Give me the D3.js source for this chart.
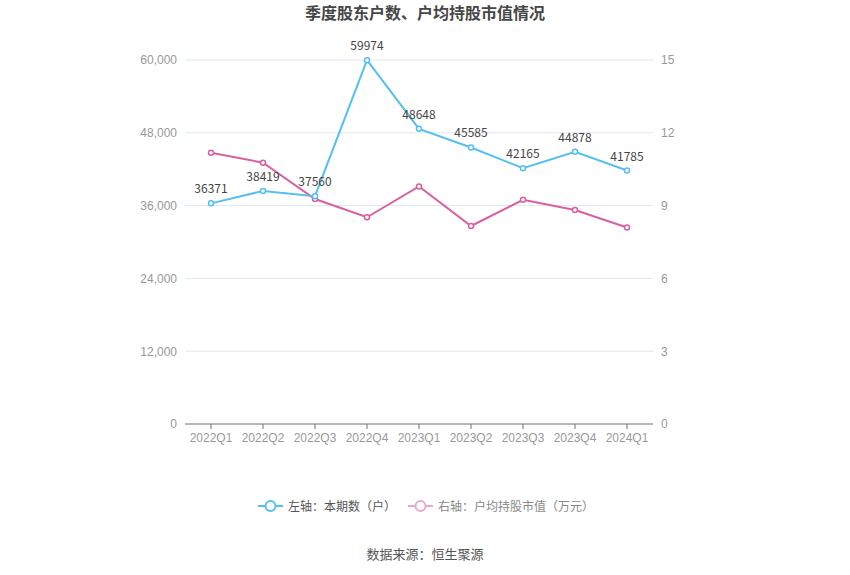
<!DOCTYPE html>
<html>
<head>
<meta charset="utf-8">
<script src="https://cdn.jsdelivr.net/npm/d3@7/dist/d3.min.js"></script>
<style>
  body { margin: 0; background: #fff; }
  svg { font-family: "Noto Sans CJK SC", "Noto Sans", sans-serif; }
</style>
</head>
<body>
<div id="chart"></div>
<script>
// data
const quarters = ["2022Q1", "2022Q2", "2022Q3", "2022Q4", "2023Q1", "2023Q2", "2023Q3", "2023Q4", "2024Q1"];
const holders = [36371, 38419, 37560, 59974, 48648, 45585, 42165, 44878, 41785];
const avgValue = [11.18, 10.77, 9.27, 8.52, 9.79, 8.16, 9.24, 8.82, 8.10];
const leftTicks = [0, 12000, 24000, 36000, 48000, 60000];
const rightTicks = [0, 3, 6, 9, 12, 15];

const width = 850, height = 575;
const margin = { top: 60, right: 197, bottom: 151, left: 185 };
const innerW = width - margin.left - margin.right;
const innerH = height - margin.top - margin.bottom;

const blue = "#56bff2", pink = "#d9609f";

const svg = d3.select("#chart").append("svg")
    .attr("width", width)
    .attr("height", height);

// title
svg.append("text")
    .attr("x", width / 2).attr("y", 19)
    .attr("text-anchor", "middle")
    .attr("font-size", 16).attr("font-weight", "bold")
    .attr("fill", "#464646")
    .text("季度股东户数、户均持股市值情况");

const g = svg.append("g").attr("transform", `translate(${margin.left},${margin.top})`);

// scales
const x = d3.scaleBand().domain(quarters).range([0, innerW]);
const yL = d3.scaleLinear().domain([0, 60000]).range([innerH, 0]);
const yR = d3.scaleLinear().domain([0, 15]).range([innerH, 0]);
const cx = d => x(d) + x.bandwidth() / 2;

// grid
g.append("g").selectAll("line")
    .data(leftTicks.filter(t => t > 0))
    .join("line")
    .attr("x1", 0).attr("x2", innerW)
    .attr("y1", d => yL(d)).attr("y2", d => yL(d))
    .attr("stroke", "#e0e6f1");

// left axis
const leftAxis = g.append("g")
    .call(d3.axisLeft(yL).tickValues(leftTicks).tickFormat(d3.format(",")).tickSize(0).tickPadding(8));
leftAxis.select(".domain").remove();
leftAxis.selectAll("text").attr("fill", "#999").attr("font-size", 12);

// right axis
const rightAxis = g.append("g")
    .attr("transform", `translate(${innerW},0)`)
    .call(d3.axisRight(yR).tickValues(rightTicks).tickSize(0).tickPadding(8));
rightAxis.select(".domain").remove();
rightAxis.selectAll("text").attr("fill", "#999").attr("font-size", 12);

// bottom axis
const bottomAxis = g.append("g")
    .attr("transform", `translate(0,${innerH})`)
    .call(d3.axisBottom(x).tickSize(5).tickPadding(4));
bottomAxis.select(".domain").attr("stroke", "#6e7079").attr("d", `M0,0H${innerW}`);
bottomAxis.selectAll("line").attr("stroke", "#6e7079");
bottomAxis.selectAll("text").attr("fill", "#999").attr("font-size", 12);

// lines
const lineL = d3.line().x((d, i) => cx(quarters[i])).y(d => yL(d));
const lineR = d3.line().x((d, i) => cx(quarters[i])).y(d => yR(d));

g.append("path").datum(avgValue)
    .attr("d", lineR).attr("fill", "none")
    .attr("stroke", pink).attr("stroke-width", 2);
g.append("g").selectAll("circle")
    .data(avgValue).join("circle")
    .attr("cx", (d, i) => cx(quarters[i])).attr("cy", d => yR(d))
    .attr("r", 2.5).attr("fill", "#fff")
    .attr("stroke", pink).attr("stroke-width", 1.5);

g.append("path").datum(holders)
    .attr("d", lineL).attr("fill", "none")
    .attr("stroke", blue).attr("stroke-width", 2);
g.append("g").selectAll("circle")
    .data(holders).join("circle")
    .attr("cx", (d, i) => cx(quarters[i])).attr("cy", d => yL(d))
    .attr("r", 2.5).attr("fill", "#fff")
    .attr("stroke", blue).attr("stroke-width", 1.5);

// labels
g.append("g").selectAll("text")
    .data(holders).join("text")
    .attr("x", (d, i) => cx(quarters[i])).attr("y", d => yL(d) - 10)
    .attr("text-anchor", "middle")
    .attr("font-size", 12).attr("fill", "#444")
    .text(d => d);

// legend
const legend = [
    { label: "左轴：本期数（户）", color: blue, text: "#555", x: 258 },
    { label: "右轴：户均持股市值（万元）", color: "#eaa8cf", text: "#888", x: 408 }
];
const lg = svg.append("g").selectAll("g").data(legend).join("g")
    .attr("transform", d => `translate(${d.x},506)`);
lg.append("line").attr("x1", 0).attr("x2", 25)
    .attr("stroke", d => d.color).attr("stroke-width", 2);
lg.append("circle").attr("cx", 12.5).attr("r", 5)
    .attr("fill", "#fff").attr("stroke", d => d.color).attr("stroke-width", 2);
lg.append("text").attr("x", 30).attr("y", 4.5)
    .attr("font-size", 12).attr("fill", d => d.text)
    .text(d => d.label);

// source
svg.append("text")
    .attr("x", width / 2).attr("y", 559)
    .attr("text-anchor", "middle")
    .attr("font-size", 13).attr("fill", "#555")
    .text("数据来源：恒生聚源");
</script>
</body>
</html>
